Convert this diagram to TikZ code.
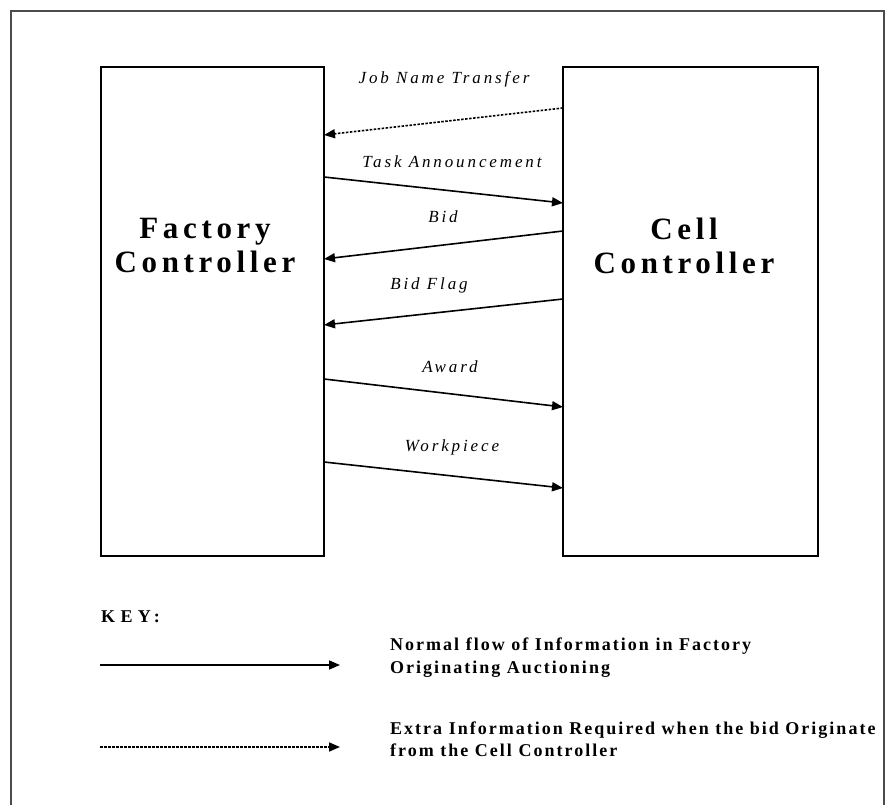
\documentclass[tikz,border=0pt]{standalone}
\usepackage{fontspec}
\setmainfont{Liberation Serif}
\newfontfamily\msgfont[LetterSpace=17]{Liberation Serif}
\newfontfamily\ctrlfont[LetterSpace=15]{Liberation Serif}
\newfontfamily\keyfont[LetterSpace=11.2]{Liberation Serif}
\newfontfamily\keyheadfont[LetterSpace=30]{Liberation Serif}
\usetikzlibrary{arrows.meta}

\begin{document}
\begin{tikzpicture}[x=1pt,y=-1pt]

    % let's define some key values
    \def\xfl{101}
    \def\xfr{324}
    \def\xcl{563}
    \def\xcr{818}
    \def\ytop{67}
    \def\ybot{556}

    % Styles
    \tikzstyle{ctrlbox}=[draw, line width=2pt, inner sep=0pt]
    \tikzstyle{ctrltext}=[align=center, font=\ctrlfont\fontsize{31}{34}\selectfont\bfseries]
    \tikzstyle{msg}=[font=\msgfont\fontsize{17}{20}\selectfont\itshape]
    \tikzstyle{keytext}=[align=left, anchor=west, inner sep=0pt,
        font=\keyfont\fontsize{18}{22.5}\selectfont\bfseries]
    \tikzstyle{flow}=[line width=1.6pt, -{Triangle[length=11pt,width=9pt]}]
    \tikzstyle{extra}=[flow, dash pattern=on 2.5pt off 1.5pt]

    \useasboundingbox (0,0) rectangle (887,805);

    % controllers
    \node[ctrlbox, minimum width=\xfr-\xfl, minimum height=\ybot-\ytop]
        (factory) at ({(\xfl+\xfr)/2},{(\ytop+\ybot)/2}) {};
    \node[ctrlbox, minimum width=\xcr-\xcl, minimum height=\ybot-\ytop]
        (cell) at ({(\xcl+\xcr)/2},{(\ytop+\ybot)/2}) {};
    \node[ctrltext] (factorytext) at (205,246) {Factory\\Controller};
    \node[ctrltext] (celltext) at (684,246) {Cell\\Controller};

    % ends of the messages on the box sides
    \coordinate (jobC) at (\xcl,108);
    \coordinate (jobF) at (\xfr,135);
    \coordinate (taskF) at (\xfr,177);
    \coordinate (taskC) at (\xcl,203);
    \coordinate (bidC) at (\xcl,231);
    \coordinate (bidF) at (\xfr,259);
    \coordinate (flagC) at (\xcl,299);
    \coordinate (flagF) at (\xfr,325);
    \coordinate (awardF) at (\xfr,379);
    \coordinate (awardC) at (\xcl,407);
    \coordinate (pieceF) at (\xfr,462);
    \coordinate (pieceC) at (\xcl,488);

    % messages
    \draw[extra] (jobC) -- (jobF);
    \draw[flow] (taskF) -- (taskC);
    \draw[flow] (bidC) -- (bidF);
    \draw[flow] (flagC) -- (flagF);
    \draw[flow] (awardF) -- (awardC);
    \draw[flow] (pieceF) -- (pieceC);

    % message labels
    \node[msg] (joblabel) at (444,79) {Job Name Transfer};
    \node[msg] (tasklabel) at (452,162) {Task Announcement};
    \node[msg] (bidlabel) at (443,217) {Bid};
    \node[msg] (flaglabel) at (429,285) {Bid Flag};
    \node[msg] (awardlabel) at (450,367) {Award};
    \node[msg] (piecelabel) at (452,447) {Workpiece};

    % key
    \node[keytext, font=\keyheadfont\fontsize{18}{20}\selectfont\bfseries]
        (key) at (101,617) {KEY\,:};
    \coordinate (normalA) at (100,665);
    \coordinate (normalB) at (340,665);
    \coordinate (extraA) at (100,747);
    \coordinate (extraB) at (340,747);
    \draw[flow] (normalA) -- (normalB);
    \draw[extra] (extraA) -- (extraB);
    \node[keytext] (normaltext) at (390,657.5)
        {Normal flow of Information in Factory\\Originating Auctioning};
    \node[keytext] (extratext) at (390,739)
        {Extra Information Required when the bid Originate\\from the Cell Controller};

    % page frame
    \fill[white] (884,0) rectangle (887,805);
    \draw[line width=2pt, gray!60!black] (10.5,805) -- (10.5,11.5) -- (884,11.5) -- (884,805);

\end{tikzpicture}
\end{document}
